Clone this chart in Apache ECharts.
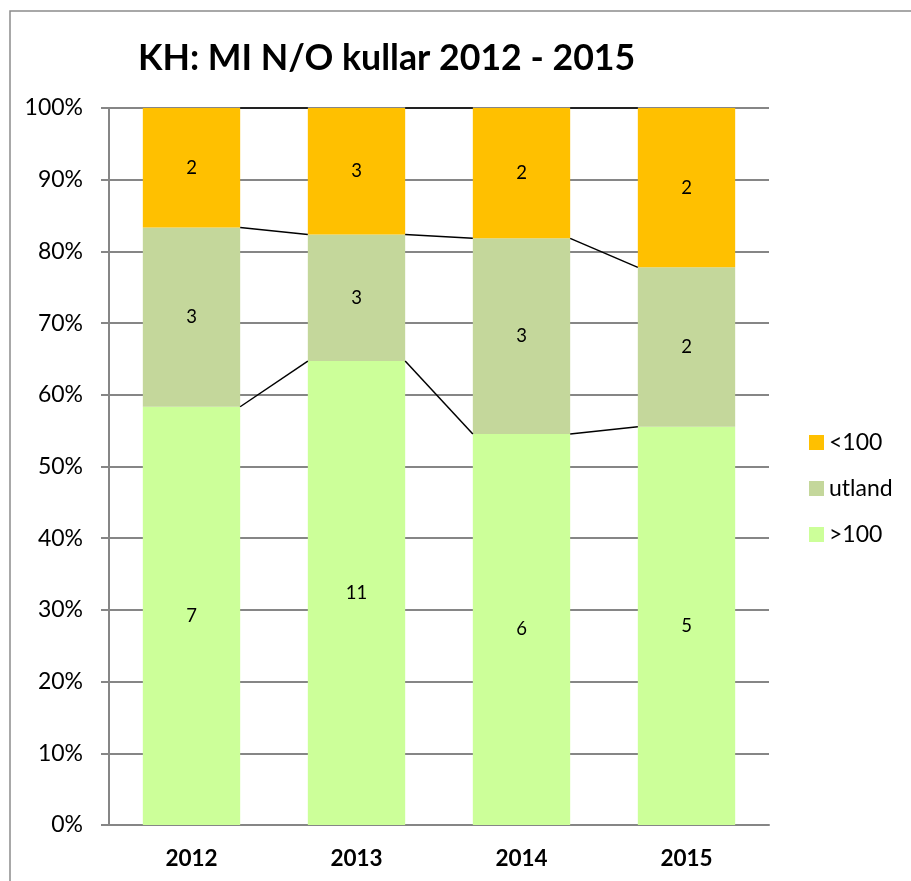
<!DOCTYPE html>
<html>
<head>
<meta charset="utf-8">
<script src="https://cdn.jsdelivr.net/npm/echarts@6/dist/echarts.min.js"></script>
<style>
  html, body { margin: 0; padding: 0; background: #fff; }
  #chart { width: 911px; height: 881px; }
</style>
</head>
<body>
<div id="chart"></div>
<script>
'use strict';
const years = ['2012', '2013', '2014', '2015'];
const over100 = [7, 11, 6, 5];
const utland = [3, 3, 3, 2];
const under100 = [2, 3, 2, 2];
const seriesNames = ['>100', 'utland', '<100'];
const colors = ['#CCFF99', '#C4D79B', '#FFC000'];

const counts = [over100, utland, under100];
const totals = years.map((y, i) => over100[i] + utland[i] + under100[i]);
const pct = counts.map(arr => arr.map((v, i) => v / totals[i] * 100));

// cumulative tops for the series lines between bars
const tops = [];
let cum = years.map(() => 0);
pct.forEach(arr => {
  cum = cum.map((c, i) => c + arr[i]);
  tops.push(cum.slice());
});
const lineData = [];
tops.forEach(t => {
  for (let i = 0; i < years.length - 1; i++) {
    lineData.push([i, t[i], t[i + 1]]);
  }
});

const BAR = 0.59;
const font = "Lato, 'Open Sans', sans-serif";

const chart = echarts.init(document.getElementById('chart'));
chart.setOption({
  animation: false,
  textStyle: { fontFamily: font },
  title: {
    text: 'KH: MI N/O kullar 2012 - 2015',
    left: 133,
    top: 35,
    textStyle: { fontFamily: font, fontSize: 35.7, fontWeight: 'bold', color: '#000' },
  },
  graphic: [{
    type: 'rect',
    shape: { x: 10, y: 11, width: 920, height: 900 },
    style: { fill: 'none', stroke: '#8c8c8c', lineWidth: 1.5 },
    silent: true,
  }],
  legend: {
    orient: 'vertical',
    left: 804,
    top: 426,
    itemWidth: 15,
    itemHeight: 15,
    itemGap: 23,
    icon: 'rect',
    data: ['<100', 'utland', '>100'],
    textStyle: { fontSize: 23, color: '#000', fontFamily: font },
  },
  grid: { left: 109, right: 142, top: 108, bottom: 56 },
  xAxis: {
    type: 'category',
    data: years,
    axisLine: { lineStyle: { color: '#868686', width: 2 } },
    axisTick: { show: false },
    axisLabel: { fontSize: 22.5, fontWeight: 'bold', color: '#000', margin: 22 },
  },
  yAxis: {
    type: 'value',
    min: 0,
    max: 100,
    interval: 10,
    axisLine: { show: true, lineStyle: { color: '#868686', width: 2 } },
    axisTick: { show: true, length: 8, lineStyle: { color: '#868686', width: 2 } },
    axisLabel: { formatter: '{value}%', fontSize: 23, color: '#000', margin: 26 },
    splitLine: { lineStyle: { color: '#868686', width: 2 } },
  },
  series: seriesNames.map((name, s) => ({
    name,
    type: 'bar',
    stack: 'all',
    barWidth: (BAR * 100) + '%',
    data: pct[s],
    itemStyle: { color: colors[s] },
    label: {
      show: true,
      position: 'inside',
      fontSize: 18.5,
      color: '#000',
      formatter: p => String(counts[s][p.dataIndex]),
    },
  })).concat([{
    type: 'custom',
    silent: true,
    z: 3,
    data: lineData,
    encode: { x: 0, y: [1, 2] },
    renderItem: (params, api) => {
      const half = api.size([1, 0])[0] * BAR / 2;
      const p1 = api.coord([api.value(0), api.value(1)]);
      const p2 = api.coord([api.value(0) + 1, api.value(2)]);
      return {
        type: 'line',
        shape: { x1: p1[0] + half, y1: p1[1], x2: p2[0] - half, y2: p2[1] },
        style: { stroke: '#000', lineWidth: 1.5 },
      };
    },
  }]),
});
</script>
</body>
</html>
